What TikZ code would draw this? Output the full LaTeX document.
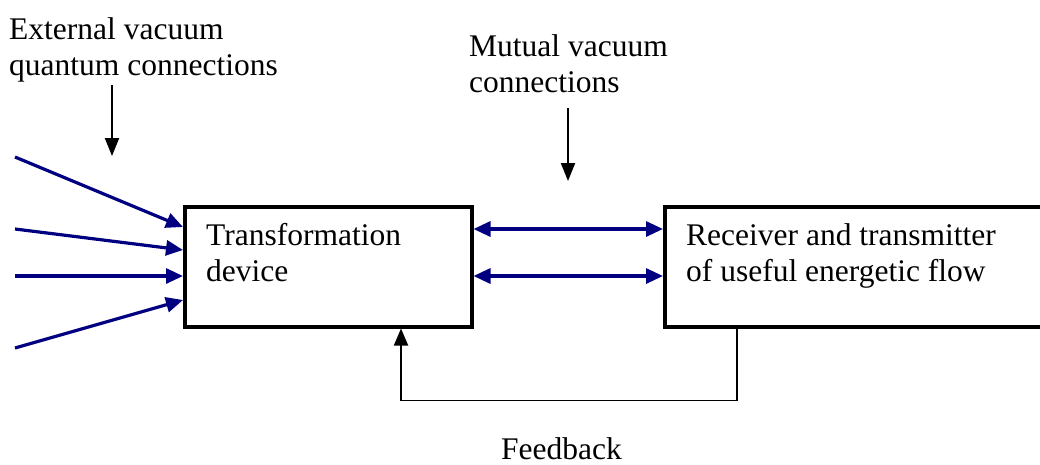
\documentclass[tikz,border=0pt]{standalone}
\usepackage{fontspec}
\setmainfont{Liberation Serif}
\usetikzlibrary{arrows.meta,calc}
\definecolor{navy}{RGB}{0,0,128}
\begin{document}
\begin{tikzpicture}[x=1pt,y=-1pt,
  box/.style={draw=black,line width=3.5pt,fill=white,inner sep=0pt,anchor=north west},
  lbl/.style={font=\fontsize{31.5}{35.5}\selectfont,inner sep=0pt,align=left,anchor=base west},
  feed/.style={navy,line width=3.2pt,-{Triangle[length=17pt,width=15pt]}},
  mutual/.style={navy,line width=3.2pt,{Triangle[length=17pt,width=15pt]}-{Triangle[length=17pt,width=15pt]}},
  pointer/.style={black,line width=2.2pt,-{Triangle[length=18pt,width=14pt]}},
  loop/.style={black,line width=1.8pt,-{Triangle[length=17pt,width=14pt]}}]
\path[use as bounding box] (0,0) rectangle (1040,464);
\clip (0,0) rectangle (1040,464);
% boxes
\node[box,minimum width=287pt,minimum height=120pt] (tb) at (183,205) {};
\node[box,minimum width=400pt,minimum height=120pt] (rb) at (663,205) {};
% texts (anchor = baseline of last line)
\node[lbl] (tt) at (206,281) {Transformation\\device};
\node[lbl] (rt) at (686,281) {Receiver and transmitter\\of useful energetic flow};
\node[lbl] (ext) at (9,75) {External vacuum\\quantum connections};
\node[lbl] (mut) at (469,92) {Mutual vacuum\\connections};
\node[lbl] (fbt) at (501,459) {Feedback};
% external inputs
\coordinate (s1) at (15,157);
\coordinate (s2) at (15,229);
\coordinate (s3) at (15,276);
\coordinate (s4) at (15,348);
\draw[feed] (s1) -- ($(tb.north west)+(0,22)$);
\draw[feed] (s2) -- ($(tb.north west)+(0,45)$);
\draw[feed] (s3) -- ($(tb.north west)+(0,71)$);
\draw[feed] (s4) -- ($(tb.north west)+(0,95)$);
% mutual connections
\draw[mutual] ($(tb.north east)+(0,24)$) -- ($(rb.north west)+(0,24)$);
\draw[mutual] ($(tb.north east)+(0,71)$) -- ($(rb.north west)+(0,71)$);
% pointer arrows
\coordinate (p1a) at (112,85);
\coordinate (p1b) at (112,156);
\coordinate (p2a) at (568,108);
\coordinate (p2b) at (568,181);
\draw[pointer] (p1a) -- (p1b);
\draw[pointer] (p2a) -- (p2b);
% feedback loop
\draw[loop] ($(rb.south west)+(74,0)$) -- ++(0,72) -| ($(tb.south west)+(218,0)$);
\end{tikzpicture}
\end{document}
